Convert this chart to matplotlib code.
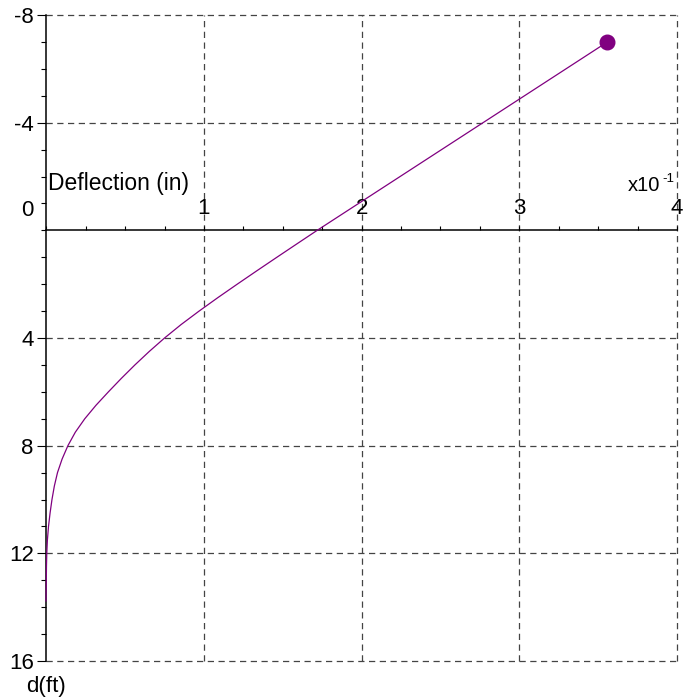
import matplotlib
matplotlib.use("Agg")
import matplotlib.pyplot as plt
from matplotlib.ticker import MultipleLocator, FixedLocator

plt.rcParams["font.family"] = ["Liberation Sans", "DejaVu Sans"]

# Lateral pile deflection profile
# depth below ground surface (ft); negative values are above ground
depth_ft = [-7.0, -6.0, -5.0, -4.0, -3.0, -2.0, -1.0, 0.0, 0.5, 1.0, 1.5, 2.0,
            2.5, 3.0, 3.5, 4.0, 4.5, 5.0, 5.5, 6.0, 6.5, 7.0, 7.5, 8.0, 8.5,
            9.0, 9.5, 10.0, 10.5, 11.0, 11.5, 12.0, 12.5, 13.0, 13.77]
# deflection in units of 1e-1 in
deflection = [3.559, 3.296, 3.033, 2.770, 2.507, 2.244, 1.981, 1.718, 1.590, 1.4625,
              1.336, 1.211, 1.088, 0.969, 0.855, 0.750, 0.653, 0.562, 0.476, 0.394,
              0.315, 0.244, 0.184, 0.137, 0.100, 0.071, 0.051, 0.036, 0.024, 0.014,
              0.007, 0.003, 0.001, 0.000, -0.002]

x_major = [1, 2, 3, 4]
y_major = [-8, -4, 4, 8, 12, 16]
y_labels = ["-8", "-4", "4", "8", "12", "16"]

PURPLE = "#800080"
GRID = "#444444"

fig = plt.figure(figsize=(6.83, 6.98), dpi=100)
ax = fig.add_axes([46.3 / 683, 1 - 661 / 698, (677 - 46.3) / 683, (661 - 15) / 698])

ax.set_xlim(0, 4)
ax.set_ylim(16, -8)

# curve and top-of-pile marker
ax.plot(deflection, depth_ft, color=PURPLE, lw=0.9, zorder=4, clip_on=False)
ax.plot(deflection[0], depth_ft[0], "o", color=PURPLE, ms=10.5, zorder=5, clip_on=False)

# x axis sits on the ground line (depth 0) with labels above it
for side in ("bottom", "right"):
    ax.spines[side].set_visible(False)
ax.spines["top"].set_position(("data", 0))
ax.spines["top"].set_linewidth(1.1)
ax.spines["left"].set_linewidth(1.1)
ax.xaxis.tick_top()
ax.xaxis.set_major_locator(FixedLocator(x_major))
ax.xaxis.set_minor_locator(MultipleLocator(0.25))
ax.tick_params(axis="x", which="both", direction="out", length=3, width=0.8,
               labelsize=16, pad=5)

ax.yaxis.set_major_locator(FixedLocator(y_major))
ax.set_yticklabels(y_labels)
ax.yaxis.set_minor_locator(MultipleLocator(1))
ax.tick_params(axis="y", which="major", direction="out", length=6.5, width=0.8,
               labelsize=16, pad=2.5)
ax.tick_params(axis="y", which="minor", direction="out", length=3.6, width=0.8)

ax.grid(True, which="major", color=GRID, lw=0.9, ls=(0, (5, 3.6)))
ax.set_axisbelow(True)
for gl in ax.get_xgridlines() + ax.get_ygridlines():
    gl.set_clip_on(False)

# "0" label nudged just above the ground line
ax.annotate("0", xy=(0, 0), xytext=(-9.5, 14.5), textcoords="offset points",
            ha="right", va="center", fontsize=16, annotation_clip=False)

ax.text(0.012, -1.48, "Deflection (in)", fontsize=16.5, ha="left", va="baseline")
ax.text(3.89, -1.45, "x10", fontsize=14.5, ha="right", va="baseline")
ax.text(3.905, -1.78, "-1", fontsize=9.5, ha="left", va="baseline")
ax.text(-0.129, 17.15, "d(ft)", fontsize=16, ha="left", va="baseline", clip_on=False)

fig.savefig("out.png", dpi=100)
